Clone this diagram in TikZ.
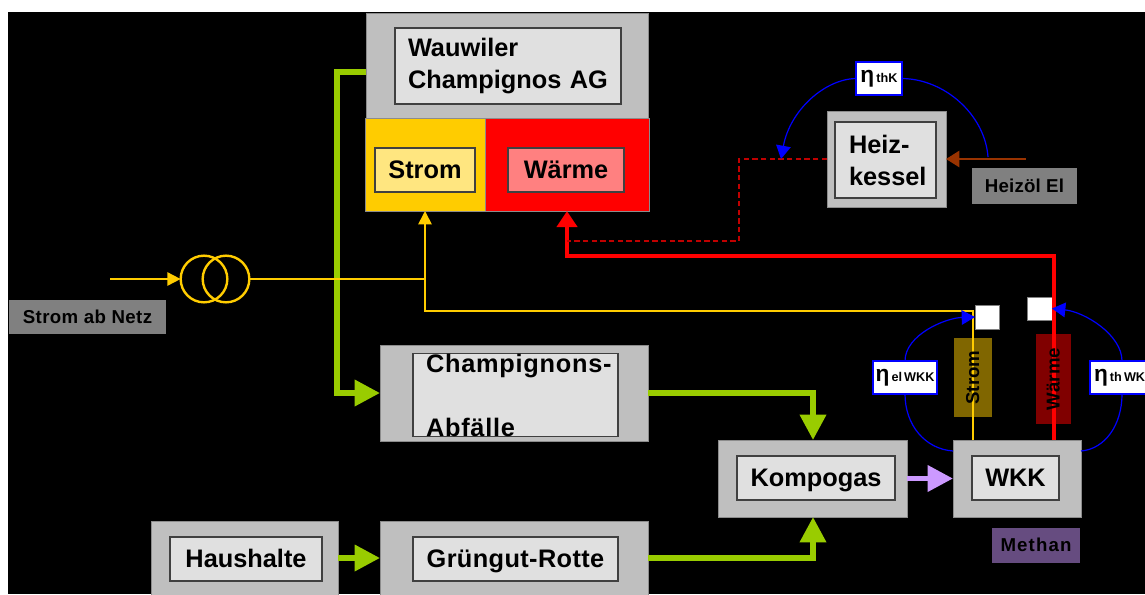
\documentclass[tikz,border=0pt]{standalone}
\usepackage{fontspec}
\setmainfont{Liberation Sans}[BoldFont={Liberation Sans Bold}]
\usetikzlibrary{arrows.meta}
\definecolor{grn}{HTML}{99CC00}
\definecolor{gold}{HTML}{FFCC00}
\definecolor{lil}{HTML}{CC99FF}
\definecolor{brn}{HTML}{993300}
\definecolor{dred}{HTML}{C00000}
\tikzset{
  sz/.style 2 args={minimum width=#1*0.75pt,minimum height=#2*0.75pt,inner sep=0pt,outer sep=0pt},
  outerbox/.style={rectangle,draw=gray!90,line width=0.75pt,fill=#1},
  outerbox/.default={black!25},
  innerbox/.style={rectangle,draw=black!75,line width=0.9pt,fill=#1,font=\fontsize{19}{24}\selectfont\bfseries,align=left},
  innerbox/.default={black!12},
  one/.style={text height=16pt,text depth=4pt},
  tag/.style={rectangle,draw=none,fill=#1,fill opacity=.5,text opacity=1,font=\fontsize{14}{16}\selectfont\bfseries,text height=12pt,text depth=3pt},
  etabox/.style={rectangle,draw=blue,fill=white,line width=0.9pt,font=\bfseries},
  sq/.style={rectangle,draw=gray,fill=white,line width=0.6pt},
  big/.style={line width=4.2pt,-{Triangle[length=19pt,width=19pt]}},
  thick line/.style={line width=3pt},
  thin line/.style={line width=1.3pt},
  loopline/.style={draw=blue,line width=0.9pt},
  looparrow/.style={loopline,-{Triangle[length=10pt,width=11pt]}},
  ring/.style={circle,draw=gold,line width=1.8pt,minimum size=35pt,inner sep=0pt,outer sep=0pt},
}
\newcommand{\etalab}[2]{{\fontsize{17}{15}\selectfont η}{\fontsize{#2}{12}\selectfont\,#1}}
\begin{document}
\begin{tikzpicture}[x=0.75pt,y=-0.75pt]
\useasboundingbox (0,0) rectangle (1145,594);
\fill[white] (0,0) rectangle (1145,594);
\fill[black] (8,12) rectangle (1145,594);

% connector free ends
\coordinate (netz) at (110,279);
\coordinate (ktail) at (1026,159);
\coordinate (jy) at (425,279);
\coordinate (jb) at (425,311);
\coordinate (jc) at (973,311);
\coordinate (kin) at (781,159);
\coordinate (kout) at (988,157);
\coordinate (wy) at (1054,256);
\coordinate (wx) at (567,256);
\coordinate (dx) at (739,159);
\coordinate (dy) at (739,241);
\coordinate (dz) at (567,241);
\coordinate (gc) at (337,72);
\coordinate (gd) at (337,393);
\coordinate (c1) at (813,393);
\coordinate (c2) at (813,558);

% boxes
\node[outerbox,sz={282}{105}] (wau) at (507,65.5) {};
\node[outerbox=gold,sz={120}{93}] (stromo) at (425,164.5) {};
\node[outerbox=red,sz={164}{93}] (waermo) at (567,164.5) {};
\node[outerbox,sz={119}{96}] (heiz) at (886.5,159) {};
\node[outerbox,sz={268}{96}] (champ) at (514,393) {};
\node[outerbox,sz={189}{77}] (kompo) at (812.5,478.5) {};
\node[outerbox,sz={128}{77}] (wkk) at (1017,478.5) {};
\node[outerbox,sz={187}{80}] (haus) at (244.5,561) {};
\node[outerbox,sz={268}{80}] (gruen) at (514,561) {};

\node[innerbox,sz={226}{76},text width=200*0.75pt] at (508,66) {Wauwiler\\Champignos AG};
\node[innerbox=gold!50!white,one,sz={100}{44}] at (425,170) {Strom};
\node[innerbox=red!50!white,one,sz={116}{44}] at (566,170) {Wärme};
\node[innerbox,sz={101}{76},text width=73*0.75pt] at (885.5,160) {Heiz-\\kessel};
\node[innerbox,sz={205}{74},text width=179*0.75pt] at (515.5,395) {\addfontfeature{LetterSpace=3}Champignons-\\Abfälle};
\node[innerbox,one,sz={158}{44}] at (816,478) {Kompogas};
\node[innerbox,one,sz={87}{44}] at (1015.5,478) {WKK};
\node[innerbox,one,sz={152}{44}] at (246,559) {Haushalte};
\node[innerbox,one,sz={205}{44}] at (515.5,559) {\addfontfeature{LetterSpace=1.5}Grüngut-Rotte};

% power transformer
\node[ring] (r1) at (204,279) {};
\node[ring] (r2) at (226,279) {};

% white squares
\node[sq,sz={24}{24}] (sq1) at (987,317) {};
\node[sq,sz={25}{23}] (sq2) at (1039.5,308.5) {};

% green flows
\draw[grn,big] (wau.west |- gc) -- (gc) -- (gd) -- (champ.west);
\draw[grn,big] (champ.east) -- (c1) -- (c1 |- kompo.north);
\draw[grn,big] (gruen.east |- c2) -- (c2) -- (c2 |- kompo.south);
\draw[grn,big] (haus.east |- c2) -- (gruen.west |- c2);
\draw[lil,big] (kompo.east) -- (wkk.west);

% heat
\draw[red,thick line,-{Triangle[length=12pt,width=15pt]}] (wkk.north -| wy) -- (wy) -- (wx) -- (waermo.south);
\draw[dred,line width=1.2pt,dash pattern=on 4pt off 2.5pt] (heiz.west) -- (dx) -- (dy) -- (dz);
\draw[brn,line width=2pt,-{Triangle[length=10pt,width=12pt]}] (ktail) -- (heiz.east);

% electricity
\draw[gold,thin line,-{Triangle[length=10pt,width=10pt]}] (netz) -- (r1.west);
\draw[gold,thin line] (r2.east) -- (jy);
\draw[gold,thin line,-{Triangle[length=10pt,width=10pt]}] (jc |- wkk.north) -- (jc) -- (jb) -- (stromo.south);

% tags
\node[tag=black!0,sz={157}{34}] (tnetz) at (87.5,317) {\addfontfeature{LetterSpace=2}Strom ab Netz};
\node[tag=black!0,sz={105}{36}] (toil) at (1024.5,186) {\addfontfeature{LetterSpace=1}Heizöl El};
\node[tag=lil,sz={88}{35}] (tmeth) at (1036,545.5) {\addfontfeature{LetterSpace=6}Methan};
\node[tag=gold,sz={79}{38},rotate=90] (tstrom) at (973,377.5) {Strom};
\node[tag=red,sz={90}{35},rotate=90] (twaerme) at (1053.5,379) {Wärme};

% efficiency labels
\node[etabox,sz={46}{33}] (e1) at (879,78.5) {\etalab{thK}{9.5}};
\node[etabox,sz={64}{33}] (e2) at (905,377.5) {\etalab{el\,WKK}{9.5}};
\node[etabox,sz={60}{33},text width=52*0.75pt,align=left] (e3) at (1120,377.5) {\etalab{th\,WKK}{9.5}};

\draw[loopline] (kout) .. controls (985,115) and (945,79) .. (e1.east);
\draw[looparrow] (e1.west) .. controls (825,79) and (790,110) .. (kin);
\draw[loopline] (wkk.west |- 0,451) .. controls (925,449) and (905,425) .. (e2.south);
\draw[looparrow] (e2.north) .. controls (905,335) and (945,318) .. (sq1.west);
\draw[loopline] (wkk.east |- 0,451) .. controls (1105,449) and (1122,425) .. (e3.south -| 1122,0);
\draw[looparrow] (e3.north -| 1122,0) .. controls (1122,335) and (1085,312) .. (sq2.east);
\end{tikzpicture}
\end{document}
